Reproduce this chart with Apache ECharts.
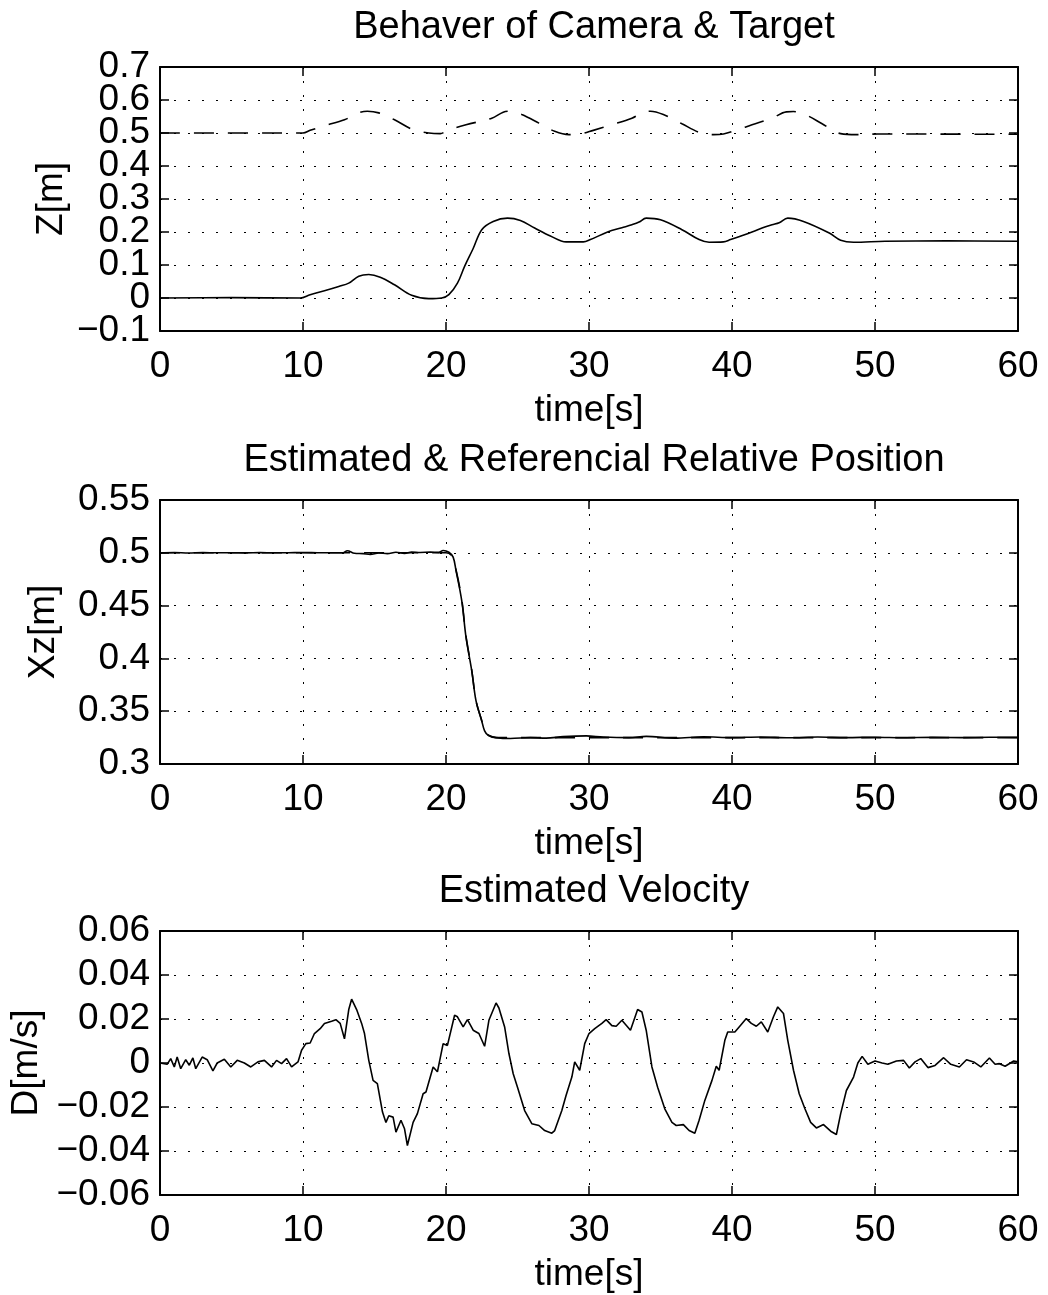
<!DOCTYPE html>
<html>
<head>
<meta charset="utf-8">
<script src="https://cdn.jsdelivr.net/npm/echarts@6/dist/echarts.min.js"></script>
<style>
  html, body { margin: 0; padding: 0; background: #fff; }
  #chart { width: 1048px; height: 1295px; }
</style>
</head>
<body>
<div id="chart"></div>
<script>
// ---- plot 1: Z of camera (solid) and target (dashed) ----
var zCamT = [0, 5, 9.8, 10.5, 11.5, 12.5, 13.2, 13.9, 14.6, 15.4, 16.4, 17.6, 18.8, 19.7, 20.2, 20.8, 21.3, 21.9, 22.5, 23.3,
  24.3, 25.2, 26.2, 27.3, 28.4, 29.6, 30.1, 31.3, 32.3, 33.0, 33.5, 34.0, 35.0, 36.5, 37.7, 38.4, 39.4, 39.9, 41.4, 42.3,
  42.8, 43.3, 43.9, 45.0, 46.8, 47.6, 48.5, 50.7, 55, 60];
var zCamV = [0, 0.001, 0, 0.01, 0.022, 0.035, 0.045, 0.066, 0.071, 0.063, 0.04, 0.008, -0.002, 0, 0.01, 0.045, 0.096, 0.15, 0.207, 0.232,
  0.242, 0.235, 0.212, 0.188, 0.17, 0.17, 0.177, 0.2, 0.213, 0.222, 0.23, 0.242, 0.237, 0.207, 0.177, 0.169, 0.17, 0.177, 0.2, 0.215,
  0.222, 0.228, 0.242, 0.232, 0.197, 0.175, 0.169, 0.172, 0.173, 0.172];
var zTgtT = [0, 10, 10.5, 11.5, 12.9, 13.9, 14.5, 15.3, 16.4, 17.7, 18.8, 19.6, 20.1, 21.4, 23.2, 24.0, 24.5, 25.3, 26.5, 27.6,
  28.6, 29.4, 30.3, 31.6, 33.0, 33.8, 34.3, 35.2, 36.5, 37.7, 38.7, 39.4, 40.4, 41.4, 42.8, 43.8, 44.3, 45.3, 46.3, 47.6,
  48.7, 50.2, 60];
var zTgtV = [0.5, 0.5, 0.508, 0.522, 0.54, 0.561, 0.566, 0.561, 0.54, 0.51, 0.5, 0.498, 0.508, 0.525, 0.545, 0.563, 0.566, 0.556, 0.53, 0.505,
  0.495, 0.497, 0.508, 0.525, 0.545, 0.563, 0.566, 0.556, 0.528, 0.502, 0.495, 0.497, 0.51, 0.525, 0.545, 0.564, 0.565, 0.552, 0.528, 0.498,
  0.495, 0.497, 0.496];

// ---- plot 2: estimated (solid) & referencial (dashed) Xz ----
var xzEstT = [0, 1, 2, 3, 4, 5, 6, 7, 8, 9, 10, 11, 12, 12.8, 13.1, 13.6, 14.2, 14.7, 15.3, 15.9, 16.5, 17.1, 17.6, 18.2, 18.9,
  19.5, 19.8, 20.2, 20.5, 20.7, 21.1, 21.4, 21.8, 22.1, 22.5, 22.7, 22.95, 23.5, 24.5, 25.9, 27, 28.2, 29.8, 31, 32.8,
  34, 36, 38, 40, 42, 44, 46, 48, 50, 52, 54, 56, 58, 60];
var xzEstV = [0.5, 0.5003, 0.4998, 0.5002, 0.5, 0.5001, 0.4999, 0.5002, 0.5, 0.5001, 0.5003, 0.5001, 0.5, 0.5, 0.502, 0.4995, 0.4992, 0.4985, 0.4998, 0.4992, 0.5005, 0.4995, 0.5008, 0.5003, 0.5006,
  0.5004, 0.5022, 0.5005, 0.4959, 0.4832, 0.4547, 0.42, 0.3883, 0.3598, 0.3408, 0.3313, 0.3272, 0.325, 0.3241, 0.325, 0.3245, 0.3259, 0.3266, 0.3255, 0.325,
  0.3262, 0.3245, 0.3258, 0.325, 0.3256, 0.3248, 0.3255, 0.325, 0.3254, 0.3249, 0.3252, 0.325, 0.3253, 0.3252];
var xzRefT = [0, 20, 20.4, 20.7, 21.1, 21.4, 21.8, 22.1, 22.5, 22.7, 23.0, 23.5, 60];
var xzRefV = [0.5, 0.5, 0.497, 0.484, 0.456, 0.421, 0.389, 0.36, 0.341, 0.332, 0.327, 0.325, 0.325];

// ---- plot 3: estimated velocity ----
var velT = [0, 0.5, 0.75, 1.0, 1.2, 1.45, 1.8, 2.05, 2.3, 2.5, 2.95, 3.3, 3.7, 4.0, 4.5, 4.95, 5.4, 5.9, 6.35, 6.85,
  7.3, 7.8, 8.15, 8.5, 8.85, 9.2, 9.65, 9.9, 10.2, 10.5, 10.8, 11.2, 11.5, 12.0, 12.3, 12.6, 12.9, 13.2, 13.4, 13.75,
  14.1, 14.3, 14.6, 14.9, 15.2, 15.56, 15.8, 16.0, 16.3, 16.5, 16.85, 17.1, 17.3, 17.7, 18.0, 18.4, 18.6, 19.1, 19.4, 19.8,
  20.1, 20.6, 20.8, 21.2, 21.5, 21.9, 22.3, 22.7, 23.0, 23.5, 23.7, 24.1, 24.4, 24.7, 25.0, 25.5, 26.0, 26.5, 26.9, 27.4,
  27.6, 28.1, 28.4, 28.8, 29.0, 29.35, 29.7, 30.0, 30.4, 30.9, 31.2, 31.6, 31.9, 32.3, 32.9, 33.4, 33.7, 34.0, 34.4, 34.8,
  35.3, 35.8, 36.1, 36.6, 37.0, 37.4, 37.7, 38.1, 38.6, 38.9, 39.1, 39.5, 39.7, 40.2, 40.5, 41.0, 41.35, 41.7, 42.05, 42.5,
  42.9, 43.2, 43.6, 43.9, 44.3, 44.7, 45.1, 45.5, 45.9, 46.4, 46.9, 47.3, 47.6, 48.0, 48.5, 48.8, 49.1, 49.5, 50.0, 50.5,
  50.9, 51.5, 52.0, 52.4, 52.8, 53.2, 53.7, 54.2, 54.8, 55.3, 55.9, 56.4, 56.9, 57.4, 58.0, 58.4, 58.7, 59.1, 59.7, 60];
var velV = [0, -0.0006, 0.002, -0.0018, 0.0027, -0.0026, 0.0015, -0.001, 0.0023, -0.0026, 0.0027, 0.0015, -0.0036, 0, 0.0017, -0.0018, 0.0012, 0, -0.0018, 0.0005,
  0.0012, -0.0018, 0.0012, -0.0003, 0.002, -0.0018, 0.0005, 0.0058, 0.0088, 0.0091, 0.0134, 0.0156, 0.018, 0.019, 0.0197, 0.018, 0.011, 0.0243, 0.029, 0.0243,
  0.018, 0.0134, 0.0012, -0.0079, -0.0094, -0.0223, -0.027, -0.024, -0.0246, -0.0314, -0.026, -0.0299, -0.0375, -0.027, -0.023, -0.014, -0.0132, -0.0018, -0.004, 0.0088,
  0.008, 0.0217, 0.021, 0.0164, 0.0197, 0.0149, 0.0134, 0.0076, 0.0194, 0.0273, 0.025, 0.0164, 0.0043, -0.0049, -0.011, -0.0216, -0.0276, -0.0284, -0.0307, -0.0319,
  -0.0307, -0.0216, -0.0147, -0.0064, 0.0005, -0.0033, 0.0088, 0.0134, 0.0156, 0.018, 0.0197, 0.017, 0.0167, 0.0194, 0.0149, 0.0243, 0.0232, 0.0149, -0.0018, -0.011,
  -0.0208, -0.027, -0.0284, -0.028, -0.0307, -0.0319, -0.026, -0.017, -0.0079, -0.0015, -0.0033, 0.0103, 0.0141, 0.0141, 0.0164, 0.0202, 0.018, 0.0167, 0.0187, 0.0141,
  0.021, 0.0255, 0.0225, 0.0103, -0.0033, -0.014, -0.0208, -0.027, -0.0295, -0.028, -0.031, -0.0325, -0.023, -0.0125, -0.0064, 0, 0.003, -0.0006, 0.0009, 0,
  -0.0006, 0.0009, 0.0012, -0.0023, 0.0005, 0.002, -0.0021, -0.0011, 0.0024, -0.0006, -0.0018, 0.0015, 0.0005, -0.0018, 0.0023, -0.0006, -0.0003, -0.0015, 0.0009, 0.0005];

// titles / axis names / ranges
var titles = ['Behaver of Camera & Target', 'Estimated & Referencial Relative Position', 'Estimated Velocity'];
var yNames = ['Z[m]', 'Xz[m]', 'D[m/s]'];
var yRanges = [[-0.1, 0.7, 0.1], [0.3, 0.55, 0.05], [-0.06, 0.06, 0.02]];
var xRange = [0, 60, 10];

var FONT = '"Liberation Sans", Arial, Helvetica, sans-serif';
var gridTops = [67, 500, 931];
var gridH = 264;
var nameGaps = [90, 98, 114];
var smoothing = [0.35, 0.35, 0];

function pairs(t, v) {
  return t.map(function (x, i) { return [x, v[i]]; });
}

function fmt(v) {
  return String(parseFloat(v.toFixed(3))).replace('-', '\u2212');
}

var lineAxis = {show: true, onZero: false, lineStyle: {color: '#000', width: 2}};
var tick = {show: true, inside: true, length: 9, lineStyle: {color: '#000', width: 1.5}};
var grid = {show: true, lineStyle: {color: '#000', width: 1, type: [2, 12]}};
var labelStyle = {fontSize: 37, color: '#000', fontFamily: FONT};

var option = {
  animation: false,
  backgroundColor: '#fff',
  title: [],
  grid: [],
  xAxis: [],
  yAxis: [],
  series: []
};

for (var i = 0; i < 3; i++) {
  var r = yRanges[i];
  option.title.push({
    text: titles[i],
    left: 589,
    top: gridTops[i] - 63,
    textAlign: 'center',
    textStyle: {fontSize: 38, fontWeight: 'normal', color: '#000', fontFamily: FONT}
  });
  option.grid.push({
    left: 160, top: gridTops[i], width: 858, height: gridH,
    containLabel: false, outerBoundsMode: 'none'
  });
  // bottom x
  option.xAxis.push({
    gridIndex: i, type: 'value', position: 'bottom',
    min: xRange[0], max: xRange[1], interval: xRange[2],
    name: 'time[s]', nameLocation: 'middle', nameGap: 61,
    nameTextStyle: labelStyle,
    axisLine: lineAxis, axisTick: tick, splitLine: grid,
    axisLabel: Object.assign({margin: 17}, labelStyle)
  });
  // top x (ticks only)
  option.xAxis.push({
    gridIndex: i, type: 'value', position: 'top',
    min: xRange[0], max: xRange[1], interval: xRange[2],
    axisLine: lineAxis, axisTick: tick, splitLine: {show: false},
    axisLabel: {show: false}
  });
  // left y: inner tick labels
  option.yAxis.push({
    gridIndex: i, type: 'value', position: 'left',
    min: r[0], max: r[1], interval: r[2],
    name: yNames[i], nameLocation: 'middle', nameGap: nameGaps[i], nameRotate: 90,
    nameTextStyle: labelStyle,
    axisLine: lineAxis, axisTick: tick, splitLine: grid,
    axisLabel: Object.assign({margin: 10, formatter: fmt, showMinLabel: false, showMaxLabel: false}, labelStyle)
  });
  // right y (ticks only)
  option.yAxis.push({
    gridIndex: i, type: 'value', position: 'right',
    min: r[0], max: r[1], interval: r[2],
    axisLine: lineAxis, axisTick: tick, splitLine: {show: false},
    axisLabel: {show: false}
  });
  // left y: end labels only (min / max)
  option.yAxis.push({
    gridIndex: i, type: 'value', position: 'left',
    min: r[0], max: r[1], interval: r[2],
    axisLine: {show: false}, axisTick: {show: false}, splitLine: {show: false},
    axisLabel: Object.assign({
      margin: 10, showMinLabel: true, showMaxLabel: true,
      formatter: (function (lo, hi) {
        return function (v) {
          return (Math.abs(v - lo) < 1e-9 || Math.abs(v - hi) < 1e-9) ? fmt(v) : '';
        };
      })(r[0], r[1])
    }, labelStyle)
  });
}

function line(data, gi, dashed) {
  return {
    type: 'line',
    xAxisIndex: gi * 2,
    yAxisIndex: gi * 3,
    data: data,
    showSymbol: false,
    symbol: 'none',
    smooth: smoothing[gi],
    lineStyle: {color: '#000', width: 1.6, type: dashed ? [20, 14] : 'solid'}
  };
}

option.series.push(line(pairs(zTgtT, zTgtV), 0, true));
option.series.push(line(pairs(zCamT, zCamV), 0, false));
option.series.push(line(pairs(xzRefT, xzRefV), 1, true));
option.series.push(line(pairs(xzEstT, xzEstV), 1, false));
option.series.push(line(pairs(velT, velV), 2, false));

var myChart = echarts.init(document.getElementById('chart'));
myChart.setOption(option);
</script>
</body>
</html>
